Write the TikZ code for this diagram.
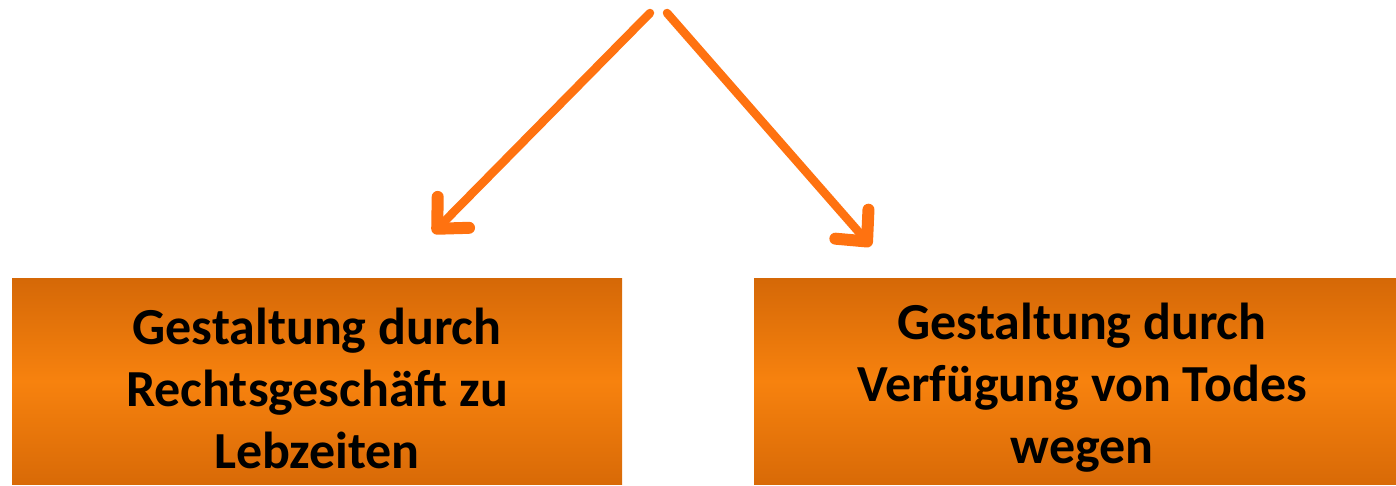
\documentclass[tikz,border=0pt]{standalone}
\usepackage{fontspec}
\setmainfont{Carlito}
\usetikzlibrary{arrows.meta}
\definecolor{otop}{HTML}{B24E00}
\definecolor{omid}{HTML}{F7820E}
\definecolor{obot}{HTML}{BA5200}
\definecolor{arrowc}{HTML}{FF7210}
\pgfdeclareverticalshading{oshade}{100bp}{color(0bp)=(obot); color(50bp)=(omid); color(100bp)=(otop)}
\begin{document}
\begin{tikzpicture}[x=1pt,y=-1pt,
  obox/.style={draw=none, shading=oshade, shading angle=0,
    minimum height=206pt, inner sep=0pt},
  otext/.style={inner sep=0pt, align=center,
    font=\fontsize{52}{62}\selectfont\bfseries, text=black},
  oarrow/.style={draw=arrowc, line width=8.5pt, line cap=round,
    -{Straight Barb[length=23pt, width=44pt, line width=12pt, round]}}]
\useasboundingbox (0,0) rectangle (1396,485);
\node[obox, minimum width=610pt] (L) at (317,381) {};
\node[obox, minimum width=642pt] (R) at (1075,381) {};
\node[otext] (Lt) at (317,388) {Gestaltung durch\\Rechtsgeschäft zu\\Lebzeiten};
\node[otext] (Rt) at (1082,388) {Gestaltung durch\\Verfügung von Todes\\wegen};
\coordinate (s1) at (650,13);
\coordinate (s2) at (667,13);
\coordinate (t1) at (433,233);
\coordinate (t2) at (871,246);
\draw[oarrow] (s1) -- (t1);
\draw[oarrow] (s2) -- (t2);
\end{tikzpicture}
\end{document}
